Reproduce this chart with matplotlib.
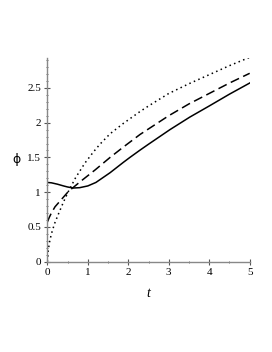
import numpy as np
from matplotlib import pyplot as plt
from matplotlib.ticker import MultipleLocator

# values
t_dot = [0, 0.02, 0.05, 0.1, 0.18, 0.27, 0.4, 0.52, 0.7, 0.93, 1.14, 1.3, 1.55, 1.88, 2.29, 2.5, 3.0, 3.5, 4.0, 4.5, 5.0]
phi_dot = [0, 0.15, 0.27, 0.40, 0.55, 0.68, 0.86, 1.01, 1.21, 1.42, 1.58, 1.69, 1.84, 1.99, 2.16, 2.24, 2.42, 2.56, 2.69, 2.82, 2.94]

t_dash = [0, 0.05, 0.1, 0.19, 0.31, 0.52, 0.81, 1.18, 1.55, 1.88, 2.29, 2.5, 3.0, 3.5, 4.0, 4.5, 5.0]
phi_dash = [0.57, 0.64, 0.70, 0.79, 0.87, 1.01, 1.15, 1.32, 1.50, 1.65, 1.83, 1.91, 2.10, 2.27, 2.42, 2.57, 2.71]

t_sol = [0, 0.1, 0.25, 0.4, 0.5, 0.64, 0.8, 1.0, 1.2, 1.55, 1.88, 2.04, 2.29, 2.5, 3.03, 3.52, 4.0, 4.5, 5.0]
phi_sol = [1.14, 1.135, 1.115, 1.09, 1.075, 1.06, 1.065, 1.09, 1.14, 1.28, 1.43, 1.50, 1.605, 1.69, 1.90, 2.08, 2.24, 2.41, 2.57]

plt.rcParams['font.family'] = 'Liberation Serif'

fig = plt.figure(figsize=(2.72, 3.52), dpi=100)
ax = fig.add_axes([0.174, 0.2565, 0.744, 0.5787])

ax.plot(t_dot, phi_dot, color='black', lw=1.1, linestyle=(0, (1, 2.2)))
ax.plot(t_dash, phi_dash, color='black', lw=1.1, linestyle=(0, (6, 3)))
ax.plot(t_sol, phi_sol, color='black', lw=1.1)

ax.set_xlim(0, 5)
ax.set_ylim(0, 2.93)
ax.spines['top'].set_visible(False)
ax.spines['right'].set_visible(False)
for s in ['left', 'bottom']:
    ax.spines[s].set_color('#888888')
    ax.spines[s].set_linewidth(1.0)

ax.xaxis.set_major_locator(MultipleLocator(1))
ax.xaxis.set_minor_locator(MultipleLocator(0.5))
ax.yaxis.set_minor_locator(MultipleLocator(0.1))
ax.set_yticks([0, 0.5, 1, 1.5, 2, 2.5])
ax.set_yticklabels(['0', '0.5', '1', '1.5', '2', '2.5'])
ax.tick_params(which='major', direction='inout', length=4, width=0.8, color='#555555', labelsize=8, pad=2.5)
ax.tick_params(which='minor', direction='inout', length=2, width=0.6, color='#555555')

ax.set_xlabel('t', fontsize=10, style='italic')
ax.xaxis.set_label_coords(0.5, -0.125)
ax.set_ylabel('ϕ', fontsize=9, rotation=0, family='DejaVu Sans', va='center')
ax.yaxis.set_label_coords(-0.15, 0.5)

fig.savefig('out.png', dpi=100)
